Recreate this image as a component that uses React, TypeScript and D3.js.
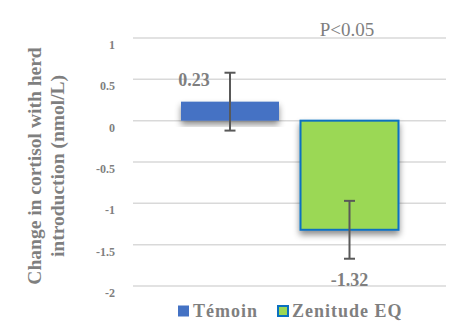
import React from "react";
import * as d3 from "d3";

const categories = ["Témoin", "Zenitude EQ"];
const values = [0.23, -1.32];
const errors = [0.35, 0.35];
const valueLabels = ["0.23", "-1.32"];
const yTicks = [1, 0.5, 0, -0.5, -1, -1.5, -2];
const yTickLabels = ["1", "0.5", "0", "-0.5", "-1", "-1.5", "-2"];
const fills = ["#4472C4", "#9BD855"];
const strokes = ["none", "#0A70C0"];

const W = 465;
const H = 330;
const gray = "#7F7F7F";
const font = "'Liberation Serif', 'Times New Roman', serif";

export default function App() {
  const y = d3.scaleLinear().domain([-2, 1]).range([286, 38]);
  const x = d3
    .scaleBand<string>()
    .domain(categories)
    .range([170.25, 409.25])
    .paddingInner(0.18)
    .paddingOuter(0.09);
  const gridX0 = 133;
  const gridX1 = 446;
  return (
    <svg
      width={W}
      height={H}
      style={{ position: "absolute", left: 0, top: 0, background: "#fff" }}
      fontFamily={font}
    >
      <defs>
        <filter id="sh" x="-20%" y="-20%" width="140%" height="150%">
          <feDropShadow dx="0" dy="4" stdDeviation="3" floodColor="#000" floodOpacity="0.45" />
        </filter>
      </defs>
      <rect width={W} height={H} fill="#fff" />
      {yTicks.map((t, i) => (
        <g key={i}>
          <line x1={gridX0} x2={gridX1} y1={y(t)} y2={y(t)} stroke="#D9D9D9" strokeWidth={1.5} />
          <text
            x={115}
            y={y(t) + 11}
            textAnchor="end"
            fontSize={12}
            fontWeight="bold"
            fill={gray}
          >
            {yTickLabels[i]}
          </text>
        </g>
      ))}
      <text
        transform="translate(41,166) rotate(-90)"
        textAnchor="middle"
        fontSize={19.5}
        fontWeight="bold"
        fill={gray}
      >
        Change in cortisol with herd
      </text>
      <text
        transform="translate(64,166) rotate(-90)"
        textAnchor="middle"
        fontSize={19.5}
        fontWeight="bold"
        fill={gray}
      >
        introduction (nmol/L)
      </text>
      {categories.map((c, i) => {
        const v = values[i];
        const x0 = x(c)!;
        const bw = x.bandwidth();
        const top = y(Math.max(0, v));
        const bot = y(Math.min(0, v));
        const cx = x0 + bw / 2;
        const e1 = y(v + errors[i]);
        const e2 = y(v - errors[i]);
        return (
          <g key={c}>
            <rect
              x={x0}
              y={top}
              width={bw}
              height={bot - top}
              fill={fills[i]}
              stroke={strokes[i]}
              strokeWidth={strokes[i] === "none" ? 0 : 2}
              filter="url(#sh)"
            />
            <line x1={cx} x2={cx} y1={e1} y2={e2} stroke="#595959" strokeWidth={2} />
            <line x1={cx - 5.5} x2={cx + 5.5} y1={e1} y2={e1} stroke="#595959" strokeWidth={2} />
            <line x1={cx - 5.5} x2={cx + 5.5} y1={e2} y2={e2} stroke="#595959" strokeWidth={2} />
          </g>
        );
      })}
      <text x={194} y={86} textAnchor="middle" fontSize={18} fontWeight="bold" fill={gray}>
        {valueLabels[0]}
      </text>
      <text x={349.5} y={286} textAnchor="middle" fontSize={18} fontWeight="bold" fill={gray}>
        {valueLabels[1]}
      </text>
      <text x={347} y={36} textAnchor="middle" fontSize={19} fill={gray}>
        P&lt;0.05
      </text>
      <g>
        <rect x={178} y={305.5} width={11} height={11} fill={fills[0]} />
        <text x={193} y={317} fontSize={18} fontWeight="bold" fill={gray} letterSpacing={1}>
          {categories[0]}
        </text>
        <rect x={278} y={306} width={10} height={10} fill={fills[1]} stroke={strokes[1]} strokeWidth={2} />
        <text x={292} y={317} fontSize={18} fontWeight="bold" fill={gray} letterSpacing={1}>
          {categories[1]}
        </text>
      </g>
    </svg>
  );
}
